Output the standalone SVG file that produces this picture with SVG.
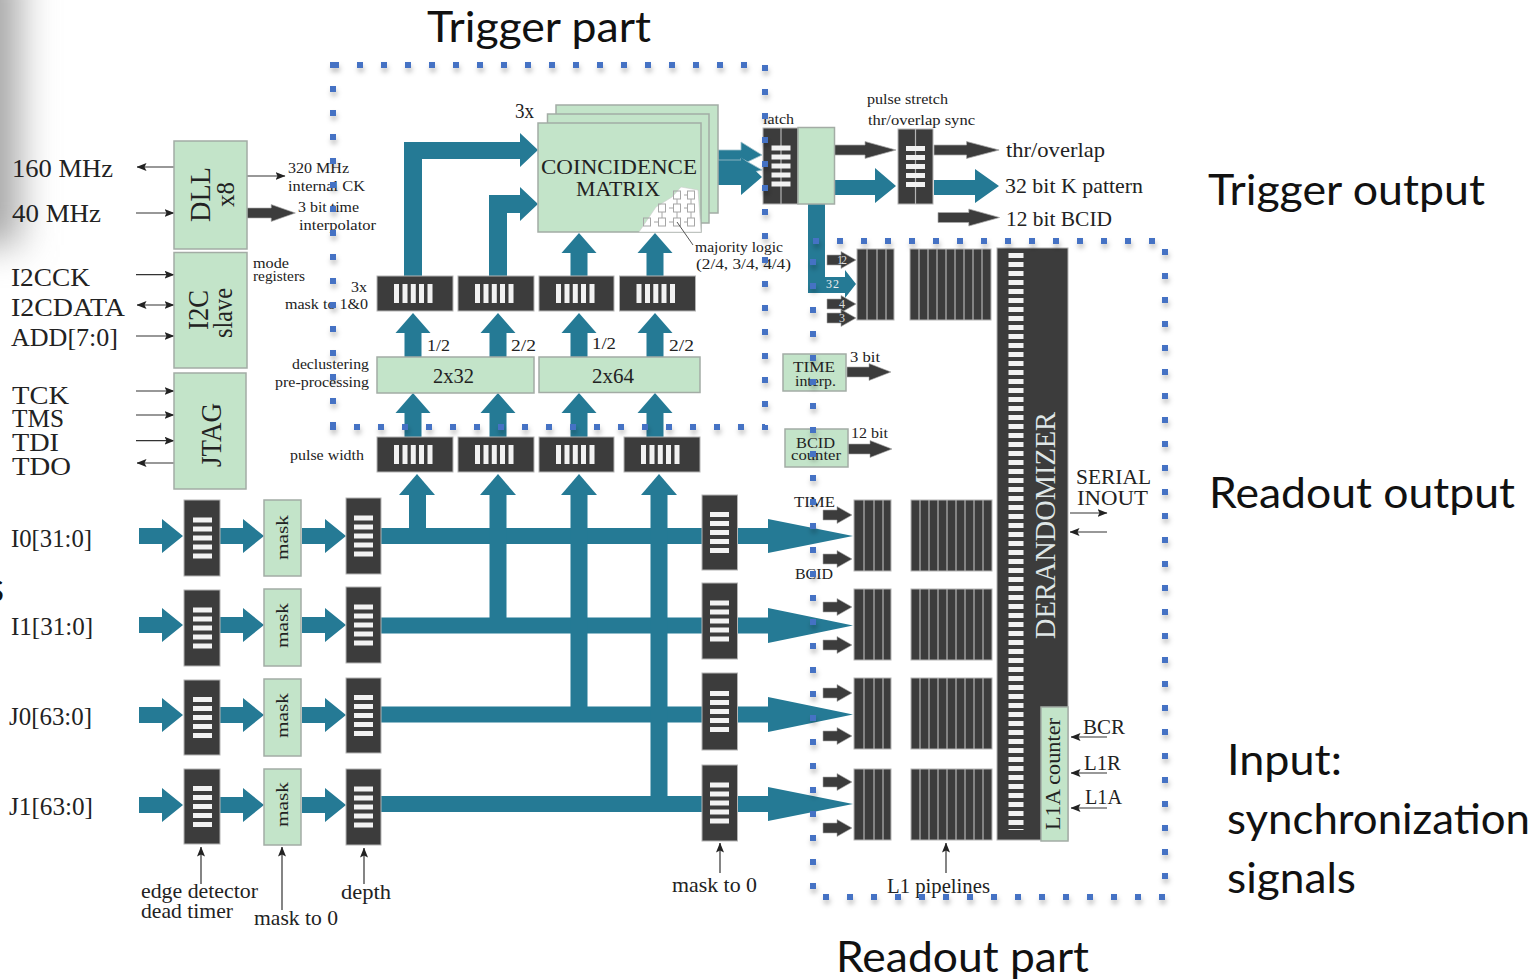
<svg xmlns="http://www.w3.org/2000/svg" width="1536" height="980" viewBox="0 0 1536 980">
<style>
text{font-family:"Liberation Serif","DejaVu Serif",serif;fill:#222}
.c{font-family:Lato,"Open Sans",sans-serif;fill:#111;font-size:42px}
.g{fill:#c3e4c9;stroke:#a3aca5;stroke-width:1.5}
.d{fill:#3c3c3c;stroke:#b4b4b4;stroke-width:1}
.t{fill:#257a95}
.k{fill:#3c3c3c;stroke:#aaa;stroke-width:.6}
.w{fill:#f2f2f2}
.l{stroke:#333;stroke-width:1.2;fill:none}
.dv{stroke:#b4b4b4;stroke-width:1.2;fill:none}
.dot{fill:none;stroke:#4472c4;stroke-width:6;stroke-dasharray:6 18}
.s12{font-size:12px}.s14{font-size:14.5px}.s15{font-size:15.5px}.s17{font-size:17px}.s21{font-size:21px}.s22{font-size:22px}.s26{font-size:26px}.s28{font-size:28px}
</style>
<defs>
<filter id="blur" x="-150%" y="-50%" width="400%" height="200%"><feGaussianBlur stdDeviation="18"/></filter>
<filter id="sh" x="-5%" y="-5%" width="110%" height="110%"><feDropShadow dx="1" dy="4" stdDeviation="2.5" flood-color="#000" flood-opacity=".25"/></filter>
<marker id="ah" viewBox="0 0 10 8" refX="9.5" refY="4" markerWidth="10" markerHeight="8" markerUnits="userSpaceOnUse" orient="auto-start-reverse"><path d="M0 0L10 4L0 8L2 4Z" fill="#222"/></marker>
<g id="hb" class="w"><rect x="-9.5" y="-20.5" width="19" height="5"/><rect x="-9.5" y="-11.5" width="19" height="5"/><rect x="-9.5" y="-2.5" width="19" height="5"/><rect x="-9.5" y="6.5" width="19" height="5"/><rect x="-9.5" y="15.5" width="19" height="5"/></g>
<g id="vb" class="w"><rect x="-21" y="-9.5" width="5" height="19"/><rect x="-12.5" y="-9.5" width="5" height="19"/><rect x="-4.2" y="-9.5" width="5" height="19"/><rect x="4" y="-9.5" width="5" height="19"/><rect x="12.5" y="-9.5" width="5" height="19"/></g>
<polygon id="up" class="t" points="0,0 17.500,20 8.500,20 8.500,44 -8.500,44 -8.500,20 -17.500,20"/>
<polygon id="rs" class="k" points="0,-5 14,-5 14,-8.500 29,0 14,8.500 14,5 0,5"/>
<polygon id="rt" class="t" points="0,-8 23,-8 23,-17 44,0 23,17 23,8 0,8"/>
<polygon id="rk" class="k" points="0,-5 22,-5 22,-8.500 44,0 22,8.500 22,5 0,5"/>
<g id="ps"><rect class="d" x="0" y="0" width="37" height="71"/><path class="dv" d="M10 0V71M20 0V71M29 0V71"/></g>
<g id="pl"><rect class="d" x="0" y="0" width="81" height="71"/><path class="dv" d="M9 0V71M18 0V71M27 0V71M36 0V71M45 0V71M54 0V71M63 0V71M72 0V71"/></g>
</defs>

<rect x="-45" y="-40" width="65" height="285" fill="#a8a8a8" filter="url(#blur)"/>

<g id="outer-labels">
<text class="c" x="427" y="42" textLength="224" lengthAdjust="spacingAndGlyphs">Trigger part</text>
<text class="c" x="1208" y="205" textLength="277" lengthAdjust="spacingAndGlyphs">Trigger output</text>
<text class="c" x="1209" y="508" textLength="306" lengthAdjust="spacingAndGlyphs">Readout output</text>
<text class="c" x="1227" y="775" textLength="115" lengthAdjust="spacingAndGlyphs">Input:</text>
<text class="c" x="1227" y="834" textLength="303" lengthAdjust="spacingAndGlyphs">synchronization</text>
<text class="c" x="1227" y="893" textLength="129" lengthAdjust="spacingAndGlyphs">signals</text>
<text class="c" x="836" y="972" textLength="253" lengthAdjust="spacingAndGlyphs">Readout part</text>
<text class="c" x="-14" y="602">s</text>
</g>

<g id="connectors">
<g id="buses" class="t">
<rect x="381" y="528" width="388" height="16"/><rect x="381" y="617.500" width="388" height="16"/><rect x="381" y="706.500" width="388" height="16"/><rect x="381" y="796" width="388" height="16"/>
<polygon points="768,519 853,536 768,553"/><polygon points="768,608 853,625.500 768,643"/><polygon points="768,697 853,714.500 768,732"/><polygon points="768,787 853,804 768,821"/>
<rect x="409" y="490" width="17" height="40"/><rect x="489.500" y="490" width="17" height="130"/><rect x="570.500" y="490" width="17" height="220"/><rect x="650.500" y="490" width="17" height="310"/>
<polygon points="417,474 435,495 399,495"/><polygon points="498,474 516,495 480,495"/><polygon points="579,474 597,495 561,495"/><polygon points="659,474 677,495 641,495"/>
</g>
<use href="#up" x="413" y="393"/><use href="#up" x="498" y="393"/><use href="#up" x="579" y="393"/><use href="#up" x="655" y="393"/>
<use href="#up" x="413" y="313"/><use href="#up" x="498" y="313"/><use href="#up" x="579" y="313"/><use href="#up" x="655" y="313"/>
<use href="#up" x="579" y="233"/><use href="#up" x="655" y="233"/>
<polygon class="t" points="404,276 404,142 520,142 520,133 538,150 520,167 520,159 422,159 422,276"/>
<polygon class="t" points="489,276 489,195 520,195 520,187 538,204 520,221 520,213 507,213 507,276"/>
<polygon class="t" stroke="#9fc0cc" stroke-width=".8" points="718,150 741,150 741,142 762,155 741,165 718,165"/>
<polygon class="t" stroke="#9fc0cc" stroke-width=".8" points="709,160 741,160 741,158 762,170 741,175 709,168"/>
<polygon class="t" points="701,169 741,169 741,157 762,177 741,195 741,185 701,185"/>
<use href="#rk" transform="translate(834,150) scale(1.41,1)"/>
<polygon class="t" points="834,180 875,180 875,168 896,186 875,203 875,195 834,195"/>
<use href="#rk" transform="translate(934,150) scale(1.48,1)"/>
<polygon class="t" points="934,180 975,180 975,169 999,186 975,203 975,195 934,195"/>
<use href="#rk" transform="translate(938,217.500) scale(1.4,1)"/>
<polygon class="t" points="808,204 825,204 825,277 845,277 845,270 856,284 845,298 845,293 808,293"/>
<use href="#rs" x="827" y="260"/><use href="#rs" x="827" y="304"/><use href="#rs" x="827" y="318"/>
<use href="#rk" x="847" y="372"/><use href="#rk" x="848" y="449"/>
<use href="#rk" transform="translate(247,213) scale(1.1,1)"/>
<g>
<use href="#rt" x="139" y="536"/><use href="#rt" x="220" y="536"/><use href="#rt" x="302" y="536"/>
<use href="#rt" x="139" y="625"/><use href="#rt" x="220" y="625"/><use href="#rt" x="302" y="625"/>
<use href="#rt" x="139" y="715"/><use href="#rt" x="220" y="715"/><use href="#rt" x="302" y="715"/>
<use href="#rt" x="139" y="805"/><use href="#rt" x="220" y="805"/><use href="#rt" x="302" y="805"/>
</g>
<use href="#rs" x="823" y="515"/><use href="#rs" x="823" y="559"/><use href="#rs" x="823" y="607"/><use href="#rs" x="823" y="645"/><use href="#rs" x="823" y="693"/><use href="#rs" x="823" y="736"/><use href="#rs" x="823" y="782"/><use href="#rs" x="823" y="828"/>
<g class="l">
<path d="M174 167H137" marker-end="url(#ah)"/><path d="M136 213H174" marker-end="url(#ah)"/>
<path d="M247 176H285" marker-end="url(#ah)"/>
<path d="M136 274.700H174" marker-end="url(#ah)"/>
<path d="M137 305H174" marker-start="url(#ah)" marker-end="url(#ah)"/>
<path d="M136 336H174" marker-end="url(#ah)"/>
<path d="M136 391H174" marker-end="url(#ah)"/><path d="M136 415H174" marker-end="url(#ah)"/><path d="M136 440.700H174" marker-end="url(#ah)"/>
<path d="M174 463H137" marker-end="url(#ah)"/>
<path d="M201 884V847" marker-end="url(#ah)"/><path d="M282 910V847" marker-end="url(#ah)"/><path d="M364 884V848" marker-end="url(#ah)"/>
<path d="M720 873V843" marker-end="url(#ah)"/><path d="M946 873V843" marker-end="url(#ah)"/>
<path d="M1070 513H1107" marker-end="url(#ah)"/><path d="M1107 532H1070" marker-end="url(#ah)"/>
<path d="M1107 737H1071" marker-end="url(#ah)"/><path d="M1107 773H1071" marker-end="url(#ah)"/><path d="M1107 808H1071" marker-end="url(#ah)"/>
</g>
</g>

<g id="node-dll"><rect class="g" x="174" y="141" width="73" height="108"/>
<text transform="translate(210,222) rotate(-90)" textLength="55" lengthAdjust="spacingAndGlyphs" style="font-size:30px">DLL</text>
<text class="s26" transform="translate(234,207) rotate(-90)" textLength="25" lengthAdjust="spacingAndGlyphs">x8</text></g>
<g id="node-i2c"><rect class="g" x="174" y="252.500" width="73" height="115.500"/>
<text transform="translate(208,330) rotate(-90)" textLength="40" lengthAdjust="spacingAndGlyphs" style="font-size:30px">I2C</text>
<text class="s28" transform="translate(232,338) rotate(-90)" textLength="50" lengthAdjust="spacingAndGlyphs">slave</text></g>
<g id="node-jtag"><rect class="g" x="174" y="373" width="72" height="116"/>
<text transform="translate(221,467) rotate(-90)" textLength="64" lengthAdjust="spacingAndGlyphs" style="font-size:30px">JTAG</text></g>

<g id="left-labels">
<text class="s26" x="12" y="177" textLength="101" lengthAdjust="spacingAndGlyphs">160 MHz</text>
<text class="s26" x="12" y="222" textLength="89" lengthAdjust="spacingAndGlyphs">40 MHz</text>
<text class="s26" x="11" y="286" textLength="79" lengthAdjust="spacingAndGlyphs">I2CCK</text>
<text class="s26" x="11" y="316" textLength="114" lengthAdjust="spacingAndGlyphs">I2CDATA</text>
<text class="s26" x="11" y="346" textLength="107" lengthAdjust="spacingAndGlyphs">ADD[7:0]</text>
<text class="s26" x="12" y="404" textLength="57" lengthAdjust="spacingAndGlyphs">TCK</text>
<text class="s26" x="12" y="427" textLength="52" lengthAdjust="spacingAndGlyphs">TMS</text>
<text class="s26" x="12" y="451" textLength="47" lengthAdjust="spacingAndGlyphs">TDI</text>
<text class="s26" x="12" y="475" textLength="59" lengthAdjust="spacingAndGlyphs">TDO</text>
<text class="s26" x="11" y="547" textLength="81" lengthAdjust="spacingAndGlyphs">I0[31:0]</text>
<text class="s26" x="11" y="635" textLength="82" lengthAdjust="spacingAndGlyphs">I1[31:0]</text>
<text class="s26" x="9" y="725" textLength="83" lengthAdjust="spacingAndGlyphs">J0[63:0]</text>
<text class="s26" x="9" y="815" textLength="84" lengthAdjust="spacingAndGlyphs">J1[63:0]</text>
<text class="s15" x="288" y="173" textLength="61" lengthAdjust="spacingAndGlyphs">320 MHz</text>
<text class="s15" x="288" y="191" textLength="77" lengthAdjust="spacingAndGlyphs">internal CK</text>
<text class="s15" x="298" y="212" textLength="61" lengthAdjust="spacingAndGlyphs">3 bit time</text>
<text class="s15" x="299" y="230" textLength="77" lengthAdjust="spacingAndGlyphs">interpolator</text>
<text class="s14" x="253" y="268" textLength="36" lengthAdjust="spacingAndGlyphs">mode</text>
<text class="s14" x="253" y="281" textLength="52" lengthAdjust="spacingAndGlyphs">registers</text>
<text class="s15" x="351" y="292" textLength="16" lengthAdjust="spacingAndGlyphs">3x</text>
<text class="s15" x="285" y="309" textLength="83" lengthAdjust="spacingAndGlyphs">mask to 1&amp;0</text>
<text class="s15" x="292" y="369" textLength="77" lengthAdjust="spacingAndGlyphs">declustering</text>
<text class="s15" x="275" y="387" textLength="94" lengthAdjust="spacingAndGlyphs">pre-processing</text>
<text class="s15" x="290" y="460" textLength="74" lengthAdjust="spacingAndGlyphs">pulse width</text>
<text class="s17" x="427" y="351" textLength="23" lengthAdjust="spacingAndGlyphs">1/2</text>
<text class="s17" x="511" y="351" textLength="25" lengthAdjust="spacingAndGlyphs">2/2</text>
<text class="s17" x="592" y="349" textLength="24" lengthAdjust="spacingAndGlyphs">1/2</text>
<text class="s17" x="669" y="351" textLength="25" lengthAdjust="spacingAndGlyphs">2/2</text>
<text class="s21" x="141" y="898" textLength="117" lengthAdjust="spacingAndGlyphs">edge detector</text>
<text class="s21" x="141" y="918" textLength="92" lengthAdjust="spacingAndGlyphs">dead timer</text>
<text class="s21" x="254" y="925" textLength="84" lengthAdjust="spacingAndGlyphs">mask to 0</text>
<text class="s21" x="341" y="899" textLength="50" lengthAdjust="spacingAndGlyphs">depth</text>
<text class="s21" x="672" y="892" textLength="85" lengthAdjust="spacingAndGlyphs">mask to 0</text>
<text class="s21" x="887" y="893" textLength="103" lengthAdjust="spacingAndGlyphs">L1 pipelines</text>
</g>

<g id="node-matrix">
<rect class="g" x="556" y="105" width="162" height="108"/><rect class="g" x="547.500" y="114" width="161.500" height="109"/><rect class="g" x="538" y="123" width="163" height="109"/>
<polygon fill="#fff" stroke="#ccc" stroke-width=".6" points="639,232 656,207 672,197 681,187 698,190 701,232"/>
<g fill="none" stroke="#a6a6a6" stroke-width="1">
<rect x="673.500" y="191" width="7" height="8"/><rect x="687.500" y="191" width="7" height="8"/>
<rect x="658.500" y="204" width="7" height="8"/><rect x="673.500" y="204" width="7" height="8"/><rect x="687.500" y="204" width="7" height="8"/>
<rect x="643.500" y="218" width="7" height="8"/><rect x="658.500" y="218" width="7" height="8"/><rect x="673.500" y="218" width="7" height="8"/><rect x="687.500" y="218" width="7" height="8"/>
<path d="M654 222h4M669 222h4M684 222h3M669 208h4M684 208h3M684 195h3M677 199v5M691 199v5M662 212v6M677 212v6M691 212v6"/>
</g>
<path d="M677 222L693 245" stroke="#555" stroke-width="1" fill="none"/>
<text x="515" y="118" textLength="19" lengthAdjust="spacingAndGlyphs" style="font-size:20px">3x</text>
<text class="s22" x="541" y="174" textLength="156" lengthAdjust="spacingAndGlyphs">COINCIDENCE</text>
<text class="s22" x="576" y="196" textLength="84" lengthAdjust="spacingAndGlyphs">MATRIX</text>
<text class="s15" x="695" y="252" textLength="88" lengthAdjust="spacingAndGlyphs">majority logic</text>
<text class="s15" x="696" y="269" textLength="95" lengthAdjust="spacingAndGlyphs">(2/4, 3/4, 4/4)</text>
</g>

<g id="node-pre-32"><rect class="g" x="377" y="357" width="157" height="36"/><text class="s22" x="433" y="383" textLength="41" lengthAdjust="spacingAndGlyphs">2x32</text></g>
<g id="node-pre-64"><rect class="g" x="539" y="357" width="161" height="35.500"/><text class="s22" x="592" y="383" textLength="42" lengthAdjust="spacingAndGlyphs">2x64</text></g>

<g id="row-mask">
<g transform="translate(377,276)"><rect class="d" width="76" height="35"/><use href="#vb" x="38" y="17.500"/></g>
<g transform="translate(458,276)"><rect class="d" width="76" height="35"/><use href="#vb" x="38" y="17.500"/></g>
<g transform="translate(539,276)"><rect class="d" width="75" height="35"/><use href="#vb" x="38" y="17.500"/></g>
<g transform="translate(619.500,276)"><rect class="d" width="76" height="35"/><use href="#vb" x="38" y="17.500"/></g>
</g>
<g id="row-pulse">
<g transform="translate(377,437)"><rect class="d" width="76" height="35"/><use href="#vb" x="38" y="17.500"/></g>
<g transform="translate(458,437)"><rect class="d" width="76" height="35"/><use href="#vb" x="38" y="17.500"/></g>
<g transform="translate(539,437)"><rect class="d" width="75" height="35"/><use href="#vb" x="38" y="17.500"/></g>
<g transform="translate(624,437)"><rect class="d" width="76" height="35"/><use href="#vb" x="38" y="17.500"/></g>
</g>

<g id="inputs">
<g><rect class="d" x="184" y="500" width="36" height="76"/><use href="#hb" x="202.500" y="538"/></g>
<g><rect class="d" x="184" y="590" width="36" height="76"/><use href="#hb" x="202.500" y="628"/></g>
<g><rect class="d" x="184" y="680" width="36" height="75"/><use href="#hb" x="202.500" y="717.500"/></g>
<g><rect class="d" x="184" y="769" width="36" height="75"/><use href="#hb" x="202.500" y="806.500"/></g>
<g><rect class="g" x="264" y="500" width="37" height="76"/><text class="s17" transform="translate(288,560) rotate(-90)" textLength="45" lengthAdjust="spacingAndGlyphs">mask</text></g>
<g><rect class="g" x="264" y="589" width="37" height="77"/><text class="s17" transform="translate(288,648) rotate(-90)" textLength="45" lengthAdjust="spacingAndGlyphs">mask</text></g>
<g><rect class="g" x="264" y="679" width="37" height="77"/><text class="s17" transform="translate(288,738) rotate(-90)" textLength="45" lengthAdjust="spacingAndGlyphs">mask</text></g>
<g><rect class="g" x="264" y="769" width="37" height="76"/><text class="s17" transform="translate(288,827) rotate(-90)" textLength="45" lengthAdjust="spacingAndGlyphs">mask</text></g>
<g><rect class="d" x="346" y="498" width="35" height="76"/><use href="#hb" x="363.500" y="536"/></g>
<g><rect class="d" x="346" y="587" width="35" height="76"/><use href="#hb" x="363.500" y="625"/></g>
<g><rect class="d" x="346" y="678" width="35" height="75"/><use href="#hb" x="363.500" y="715.500"/></g>
<g><rect class="d" x="346" y="769" width="35" height="76"/><use href="#hb" x="363.500" y="807"/></g>
<g><rect class="d" x="702" y="495" width="35.500" height="75"/><use href="#hb" x="719.500" y="532.500"/></g>
<g><rect class="d" x="702" y="583" width="35.500" height="76"/><use href="#hb" x="719.500" y="621"/></g>
<g><rect class="d" x="702" y="673" width="35.500" height="77"/><use href="#hb" x="719.500" y="711.500"/></g>
<g><rect class="d" x="702" y="765" width="35.500" height="76"/><use href="#hb" x="719.500" y="803"/></g>
</g>

<g id="node-latch"><rect class="d" x="763" y="128" width="35" height="76"/><path class="dv" d="M781 128V204"/><use href="#hb" x="781" y="166"/>
<rect class="g" x="798" y="127.500" width="36.500" height="76.500"/><text class="s14" x="763" y="124" textLength="31" lengthAdjust="spacingAndGlyphs">latch</text></g>
<g id="node-sync"><rect class="d" x="898" y="129" width="35" height="75"/><path class="dv" d="M915.500 129V204"/><use href="#hb" x="915.500" y="166.500"/>
<text class="s14" x="867" y="104" textLength="81" lengthAdjust="spacingAndGlyphs">pulse stretch</text>
<text class="s14" x="868" y="125" textLength="107" lengthAdjust="spacingAndGlyphs">thr/overlap sync</text></g>
<g id="trigger-output-labels">
<text class="s21" x="1006" y="157" textLength="99" lengthAdjust="spacingAndGlyphs">thr/overlap</text>
<text class="s21" x="1005" y="193" textLength="138" lengthAdjust="spacingAndGlyphs">32 bit K pattern</text>
<text class="s21" x="1006" y="226" textLength="106" lengthAdjust="spacingAndGlyphs">12 bit BCID</text>
<text class="s12" x="837" y="264" style="fill:#ddd" textLength="10">12</text>
<text class="s12" x="826" y="288" style="fill:#eee" textLength="13">32</text>
<text class="s12" x="839" y="308" style="fill:#ddd">4</text>
<text class="s12" x="839" y="322" style="fill:#ddd">3</text>
</g>

<g id="node-time"><rect class="g" x="783" y="354" width="63" height="37"/>
<text class="s15" x="793" y="372" textLength="42" lengthAdjust="spacingAndGlyphs">TIME</text>
<text class="s15" x="795" y="386" textLength="41" lengthAdjust="spacingAndGlyphs">interp.</text>
<text class="s14" x="850" y="362" textLength="30" lengthAdjust="spacingAndGlyphs">3 bit</text></g>
<g id="node-bcid"><rect class="g" x="785" y="429" width="63" height="38"/>
<text class="s15" x="796" y="448" textLength="39" lengthAdjust="spacingAndGlyphs">BCID</text>
<text class="s15" x="791" y="460" textLength="50" lengthAdjust="spacingAndGlyphs">counter</text>
<text class="s14" x="851" y="438" textLength="37" lengthAdjust="spacingAndGlyphs">12 bit</text></g>

<g id="pipelines">
<use href="#ps" x="857" y="249"/><use href="#pl" x="910" y="249"/>
<use href="#ps" x="854" y="500"/><use href="#pl" x="911" y="500"/>
<use href="#ps" x="854" y="589"/><use href="#pl" x="911" y="589"/>
<use href="#ps" x="854" y="678"/><use href="#pl" x="911" y="678"/>
<use href="#ps" x="854" y="769"/><use href="#pl" x="911" y="769"/>
<text class="s15" x="794" y="507" textLength="41" lengthAdjust="spacingAndGlyphs">TIME</text>
<text class="s15" x="795" y="579" textLength="38" lengthAdjust="spacingAndGlyphs">BCID</text>
</g>

<g id="node-derandomizer">
<rect class="d" x="997" y="248" width="71" height="592"/>
<path d="M1016 253V830" stroke="#f2f2f2" stroke-width="15" stroke-dasharray="5 4" fill="none"/>
<text transform="translate(1055,639) rotate(-90)" textLength="227" lengthAdjust="spacingAndGlyphs" style="font-size:29px;fill:#dfe6e6">DERANDOMIZER</text>
<rect class="g" x="1041" y="707" width="27" height="134"/>
<text transform="translate(1060,830) rotate(-90)" textLength="112" lengthAdjust="spacingAndGlyphs" style="font-size:20px">L1A counter</text>
</g>
<g id="right-labels">
<text class="s21" x="1076" y="484" textLength="75" lengthAdjust="spacingAndGlyphs">SERIAL</text>
<text class="s21" x="1077" y="505" textLength="71" lengthAdjust="spacingAndGlyphs">INOUT</text>
<text class="s21" x="1083" y="734" textLength="42" lengthAdjust="spacingAndGlyphs">BCR</text>
<text class="s21" x="1084" y="770" textLength="37" lengthAdjust="spacingAndGlyphs">L1R</text>
<text class="s21" x="1085" y="804" textLength="37" lengthAdjust="spacingAndGlyphs">L1A</text>
</g>

<g id="trigger-box" filter="url(#sh)">
<path class="dot" d="M333 65H765"/><path class="dot" d="M333 62V430"/><path class="dot" d="M330 427H765"/><path class="dot" d="M765 65V430"/>
</g>
<g id="readout-box" filter="url(#sh)">
<path class="dot" d="M813 241H1166"/><path class="dot" d="M813 259V890"/><path class="dot" d="M823 897H1166"/><path class="dot" d="M1165 249V880"/>
</g>
</svg>
